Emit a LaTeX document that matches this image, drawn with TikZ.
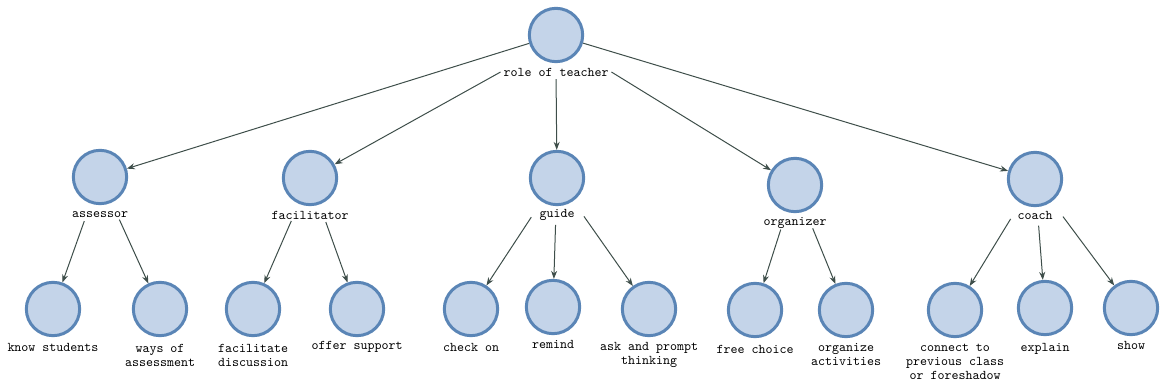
\documentclass[tikz,border=0pt]{standalone}
\usepackage{tikz}
\usetikzlibrary{
    arrows.meta,
    positioning
}
\definecolor{bubblefill}{HTML}{C4D4E9}
\definecolor{bubbleline}{HTML}{5A85B6}
\definecolor{linkcol}{HTML}{3E4E4A}
\tikzset{
    bubble/.style={circle, draw=bubbleline, fill=bubblefill, line width=2.25pt, minimum size=40pt, inner sep=0pt},
    tag/.style={font=\ttfamily\fontsize{10}{10.5}\selectfont, align=center, inner sep=2pt},
    link/.style={draw=linkcol, line width=0.75pt, -{Stealth[length=6pt, width=4.5pt]}},
    sublink/.style={link, shorten <=14pt}
}

\begin{document}
\begin{tikzpicture}[x=0.75pt, y=-0.75pt]
                        \useasboundingbox (0, 0) rectangle (1160, 388);
                        % top
                        \node[bubble] (role) at (556, 35) {};
                        \node[tag] (rolel) at (556, 72) {role of teacher};
                        % roles
                        \node[bubble] (asr) at (100, 177) {};
                        \node[tag] (asrl) at (100, 215) {assessor};
                        \node[bubble] (fac) at (310, 178) {};
                        \node[tag] (facl) at (310, 215) {facilitator};
                        \node[bubble] (gd) at (557, 178) {};
                        \node[tag] (gdl) at (557, 215) {guide};
                        \node[bubble] (org) at (795, 185) {};
                        \node[tag] (orgl) at (795, 223) {organizer};
                        \node[bubble] (cch) at (1035, 179) {};
                        \node[tag] (cchl) at (1035, 215) {coach};
                        % tasks
                        \node[bubble] (know) at (53, 309) {};
                        \node[tag] (knowl) at (53, 347) {know students};
                        \node[bubble] (ways) at (160, 309) {};
                        \node[tag] (waysl) at (160, 355) {ways of\\assessment};
                        \node[bubble] (fdis) at (253, 309) {};
                        \node[tag] (fdisl) at (253, 355) {facilitate\\discussion};
                        \node[bubble] (offr) at (357, 309) {};
                        \node[tag] (offrl) at (357, 347) {offer support};
                        \node[bubble] (chk) at (471, 309) {};
                        \node[tag] (chkl) at (471, 347) {check on};
                        \node[bubble] (rmd) at (553, 307) {};
                        \node[tag] (rmdl) at (553, 344) {remind};
                        \node[bubble] (ask) at (649, 309) {};
                        \node[tag] (askl) at (649, 355) {ask and prompt\\thinking};
                        \node[bubble] (free) at (755, 310) {};
                        \node[tag] (freel) at (755, 349) {free choice};
                        \node[bubble] (orga) at (846, 310) {};
                        \node[tag] (orgal) at (846, 355) {organize\\activities};
                        \node[bubble] (conn) at (955, 310) {};
                        \node[tag] (connl) at (955, 362) {connect to\\previous class\\or foreshadow};
                        \node[bubble] (expl) at (1045, 308) {};
                        \node[tag] (expll) at (1045, 349) {explain};
                        \node[bubble] (show) at (1131, 308) {};
                        \node[tag] (showl) at (1131, 345) {show};
                        \draw[link] (role) -- (asr);
                        \draw[link] (rolel.west) -- (fac);
                        \draw[link] (rolel) -- (gd);
                        \draw[link] (rolel.east) -- (org);
                        \draw[link] (role) -- (cch);
                        \draw[sublink] (asr) -- (know);
                        \draw[sublink] (asr) -- (ways);
                        \draw[sublink] (fac) -- (fdis);
                        \draw[sublink] (fac) -- (offr);
                        \draw[sublink] (gd) -- (chk);
                        \draw[sublink] (gd) -- (rmd);
                        \draw[sublink] (gd) -- (ask);
                        \draw[sublink] (org) -- (free);
                        \draw[sublink] (org) -- (orga);
                        \draw[sublink] (cch) -- (conn);
                        \draw[sublink] (cch) -- (expl);
                        \draw[sublink] (cch) -- (show);
                    \end{tikzpicture}
\end{document}
